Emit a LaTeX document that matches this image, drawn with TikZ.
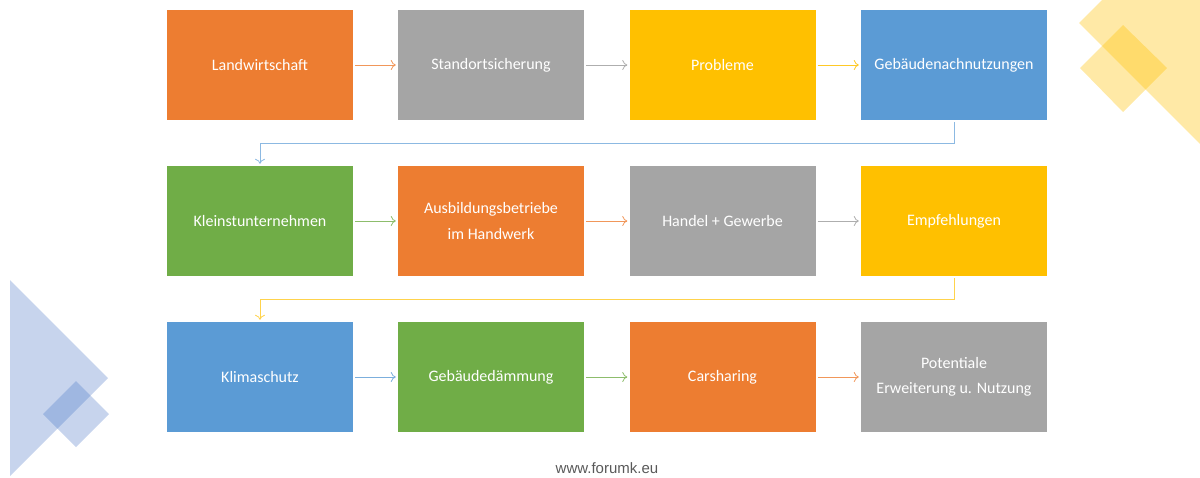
\documentclass[tikz,border=0pt]{standalone}
\usepackage{fontspec}
\setmainfont{Carlito}
\newfontfamily\footfont{Liberation Sans}
\usetikzlibrary{arrows.meta}
\definecolor{cOrange}{HTML}{ED7D31}
\definecolor{cGray}{HTML}{A5A5A5}
\definecolor{cYellow}{HTML}{FFC000}
\definecolor{cBlue}{HTML}{5B9BD5}
\definecolor{cGreen}{HTML}{70AD47}
\definecolor{cDecoBlue}{HTML}{4472C4}
\definecolor{cFoot}{HTML}{595959}
\tikzset{
  stepbox/.style={minimum width=186pt, minimum height=110pt, inner sep=0pt,
    text=white, align=center, font=\fontsize{16}{25}\selectfont},
  flow/.style={line width=0.8pt, -{To[length=5pt,width=10pt]}, shorten <=2pt, shorten >=2pt},
  decoY/.style={fill=cYellow, fill opacity=0.35, draw=none},
  decoB/.style={fill=cDecoBlue, fill opacity=0.3, draw=none}
}
\begin{document}
\begin{tikzpicture}[x=1pt,y=-1pt]
\useasboundingbox (0,0) rectangle (1200,477);
% decorations
\fill[decoY] (1102,0) -- (1079,23) -- (1200,144) -- (1200,0) -- cycle;
\fill[decoY] (1080,68) -- (1123,25) -- (1167,68) -- (1123,112) -- cycle;
\fill[decoB] (10,280) -- (108,378) -- (10,476) -- cycle;
\fill[decoB] (43,414) -- (76,381) -- (109,414) -- (76,447) -- cycle;
% boxes
\node[stepbox, fill=cOrange] (n1) at (260,65) {Landwirtschaft};
\node[stepbox, fill=cGray]   (n2) at (491,65) {Standortsicherung};
\node[stepbox, fill=cYellow] (n3) at (722.5,65) {Probleme};
\node[stepbox, fill=cBlue]   (n4) at (954,65) {Gebäudenachnutzungen};
\node[stepbox, fill=cGreen]  (n5) at (260,221) {Kleinstunternehmen};
\node[stepbox, fill=cOrange] (n6) at (491,221) {Ausbildungsbetriebe\\im Handwerk};
\node[stepbox, fill=cGray]   (n7) at (722.5,221) {Handel + Gewerbe};
\node[stepbox, fill=cYellow] (n8) at (954,221) {Empfehlungen};
\node[stepbox, fill=cBlue]   (n9) at (260,377) {Klimaschutz};
\node[stepbox, fill=cGreen]  (n10) at (491,377) {Gebäudedämmung};
\node[stepbox, fill=cOrange] (n11) at (722.5,377) {Carsharing};
\node[stepbox, fill=cGray]   (n12) at (954,377) {Potentiale\\Erweiterung u. Nutzung};
% arrows
\draw[flow, cOrange!80] (n1) -- (n2);
\draw[flow, cGray!90] (n2) -- (n3);
\draw[flow, cYellow!85] (n3) -- (n4);
\draw[flow, cBlue!70] (n4.south) -- ++(0,23) -| (n5.north);
\draw[flow, cGreen!80] (n5) -- (n6);
\draw[flow, cOrange!80] (n6) -- (n7);
\draw[flow, cGray!90] (n7) -- (n8);
\draw[flow, cYellow!70] (n8.south) -- ++(0,23) -| (n9.north);
\draw[flow, cBlue!80] (n9) -- (n10);
\draw[flow, cGreen!80] (n10) -- (n11);
\draw[flow, cOrange!80] (n11) -- (n12);
% footer
\node[font=\footfont\fontsize{15}{17}\selectfont, text=cFoot] (foot) at (607,468) {www.forumk.eu};
\end{tikzpicture}
\end{document}
